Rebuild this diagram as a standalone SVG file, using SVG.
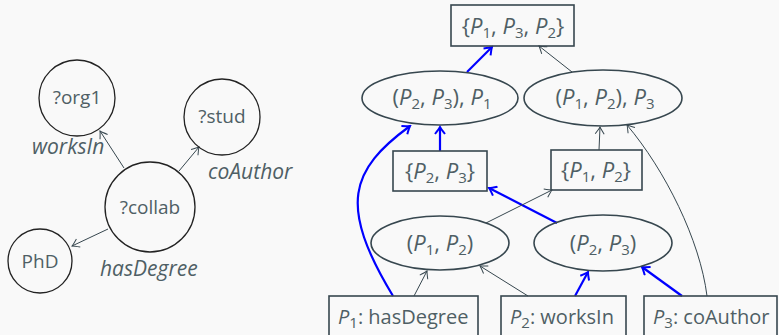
<svg xmlns="http://www.w3.org/2000/svg" width="779" height="335" viewBox="0 0 779 335">
  <style>
    .bg { fill: #f9f9f9; }
    .circ { fill: none; stroke: #222; stroke-width: 1.3; }
    .node { fill: none; stroke: #37474f; stroke-width: 1.6; }
    .lbl { font-family: "Open Sans", "Noto Sans", sans-serif; font-size: 19px; fill: #4f5f65; }
    .math { font-family: "Open Sans", "Noto Sans", sans-serif; font-size: 22px; fill: #4f5f65; }
    .box { font-family: "Open Sans", "Noto Sans", sans-serif; font-size: 20px; fill: #4f5f65; }
    .edge-lbl { font-family: "Open Sans", "Noto Sans", sans-serif; font-size: 21px; font-style: italic; fill: #4f5f65; }
    .it { font-style: italic; }
    .sub { font-size: 15px; }
    .thin { fill: none; stroke: #37474f; stroke-width: 1; marker-end: url(#arrGray); }
    .blue { fill: none; stroke: #0000ff; stroke-width: 2.2; marker-end: url(#arrBlue); }
  </style>
  <defs>
    <marker id="arrGray" viewBox="-10 -6 12 12" markerWidth="12" markerHeight="12" refX="0" refY="0" orient="auto" markerUnits="userSpaceOnUse">
      <path d="M -7 -4.5 Q -2 -1 0 0 Q -2 1 -7 4.5" fill="none" stroke="#37474f" stroke-width="1"/>
    </marker>
    <marker id="arrBlue" viewBox="-10 -6 12 12" markerWidth="12" markerHeight="12" refX="0" refY="0" orient="auto" markerUnits="userSpaceOnUse">
      <path d="M -7 -5 Q -2 -1 0 0 Q -2 1 -7 5" fill="none" stroke="#0000ff" stroke-width="2"/>
    </marker>
  </defs>

  <rect class="bg" x="0" y="0" width="779" height="335"/>

  <!-- query graph -->
  <g id="edges-query">
    <line class="thin" x1="124" y1="168" x2="100" y2="131"/>
    <line class="thin" x1="179" y1="171" x2="199" y2="147"/>
    <line class="thin" x1="108" y1="229" x2="72" y2="246"/>
    <text class="edge-lbl" x="32" y="154">worksIn</text>
    <text class="edge-lbl" x="208" y="179">coAuthor</text>
    <text class="edge-lbl" x="100" y="276">hasDegree</text>
  </g>
  <g id="org1">
    <circle class="circ" cx="77" cy="98" r="38"/>
    <text class="lbl" x="77" y="104" text-anchor="middle">?org1</text>
  </g>
  <g id="stud">
    <circle class="circ" cx="222" cy="117" r="38"/>
    <text class="lbl" x="222" y="123" text-anchor="middle">?stud</text>
  </g>
  <g id="collab">
    <circle class="circ" cx="150" cy="207" r="45"/>
    <text class="lbl" x="150" y="214" text-anchor="middle">?collab</text>
  </g>
  <g id="phd">
    <circle class="circ" cx="40" cy="261" r="32"/>
    <text class="lbl" x="40" y="268" text-anchor="middle">PhD</text>
  </g>

  <!-- join plan lattice -->
  <g id="connectors">
    <path class="blue" d="M393,296 C338,205 350,170 410,126"/>
    <line class="blue" x1="440" y1="151" x2="440" y2="127"/>
    <line class="blue" x1="557" y1="223" x2="489" y2="188"/>
    <line class="blue" x1="575" y1="296" x2="588" y2="272"/>
    <line class="blue" x1="682" y1="296" x2="642" y2="267"/>
    <line class="blue" x1="467" y1="72" x2="492" y2="47"/>
    <line class="thin" x1="486" y1="223" x2="552" y2="190"/>
    <line class="thin" x1="414" y1="296" x2="427" y2="271"/>
    <line class="thin" x1="528" y1="296" x2="480" y2="266"/>
    <line class="thin" x1="599" y1="150" x2="600" y2="127"/>
    <path class="thin" d="M707,296 C700,240 665,170 627,125"/>
    <line class="thin" x1="572" y1="72" x2="539" y2="46"/>
  </g>

  <g id="p132">
    <rect class="node" x="451" y="5" width="123" height="41"/>
    <text class="math" x="513" y="34" text-anchor="middle">{<tspan class="it">P</tspan><tspan class="sub" dy="4">1</tspan><tspan dy="-4">, </tspan><tspan class="it">P</tspan><tspan class="sub" dy="4">3</tspan><tspan dy="-4">, </tspan><tspan class="it">P</tspan><tspan class="sub" dy="4">2</tspan><tspan dy="-4">}</tspan></text>
  </g>
  <g id="j23-1">
    <ellipse class="node" cx="440" cy="98" rx="78" ry="27"/>
    <text class="math" x="442" y="105" text-anchor="middle">(<tspan class="it">P</tspan><tspan class="sub" dy="4">2</tspan><tspan dy="-4">, </tspan><tspan class="it">P</tspan><tspan class="sub" dy="4">3</tspan><tspan dy="-4">), </tspan><tspan class="it">P</tspan><tspan class="sub" dy="4">1</tspan></text>
  </g>
  <g id="j12-3">
    <ellipse class="node" cx="603" cy="98" rx="79" ry="28"/>
    <text class="math" x="605" y="105" text-anchor="middle">(<tspan class="it">P</tspan><tspan class="sub" dy="4">1</tspan><tspan dy="-4">, </tspan><tspan class="it">P</tspan><tspan class="sub" dy="4">2</tspan><tspan dy="-4">), </tspan><tspan class="it">P</tspan><tspan class="sub" dy="4">3</tspan></text>
  </g>
  <g id="s23">
    <rect class="node" x="393" y="151" width="94" height="40"/>
    <text class="math" x="440" y="179" text-anchor="middle">{<tspan class="it">P</tspan><tspan class="sub" dy="4">2</tspan><tspan dy="-4">, </tspan><tspan class="it">P</tspan><tspan class="sub" dy="4">3</tspan><tspan dy="-4">}</tspan></text>
  </g>
  <g id="s12">
    <rect class="node" x="551" y="150" width="91" height="40"/>
    <text class="math" x="596" y="178" text-anchor="middle">{<tspan class="it">P</tspan><tspan class="sub" dy="4">1</tspan><tspan dy="-4">, </tspan><tspan class="it">P</tspan><tspan class="sub" dy="4">2</tspan><tspan dy="-4">}</tspan></text>
  </g>
  <g id="j12">
    <ellipse class="node" cx="440" cy="243" rx="69" ry="27"/>
    <text class="math" x="440" y="251" text-anchor="middle">(<tspan class="it">P</tspan><tspan class="sub" dy="4">1</tspan><tspan dy="-4">, </tspan><tspan class="it">P</tspan><tspan class="sub" dy="4">2</tspan><tspan dy="-4">)</tspan></text>
  </g>
  <g id="j23">
    <ellipse class="node" cx="603" cy="243" rx="69" ry="28"/>
    <text class="math" x="603" y="251" text-anchor="middle">(<tspan class="it">P</tspan><tspan class="sub" dy="4">2</tspan><tspan dy="-4">, </tspan><tspan class="it">P</tspan><tspan class="sub" dy="4">3</tspan><tspan dy="-4">)</tspan></text>
  </g>
  <g id="p1">
    <rect class="node" x="329" y="296" width="149" height="45"/>
    <text class="box" x="338" y="324"><tspan class="it">P</tspan><tspan class="sub" dy="4">1</tspan><tspan dy="-4">: hasDegree</tspan></text>
  </g>
  <g id="p2">
    <rect class="node" x="501" y="296" width="125" height="45"/>
    <text class="box" x="510" y="324"><tspan class="it">P</tspan><tspan class="sub" dy="4">2</tspan><tspan dy="-4">: worksIn</tspan></text>
  </g>
  <g id="p3">
    <rect class="node" x="644" y="296" width="133" height="45"/>
    <text class="box" x="653" y="324"><tspan class="it">P</tspan><tspan class="sub" dy="4">3</tspan><tspan dy="-4">: coAuthor</tspan></text>
  </g>
</svg>
